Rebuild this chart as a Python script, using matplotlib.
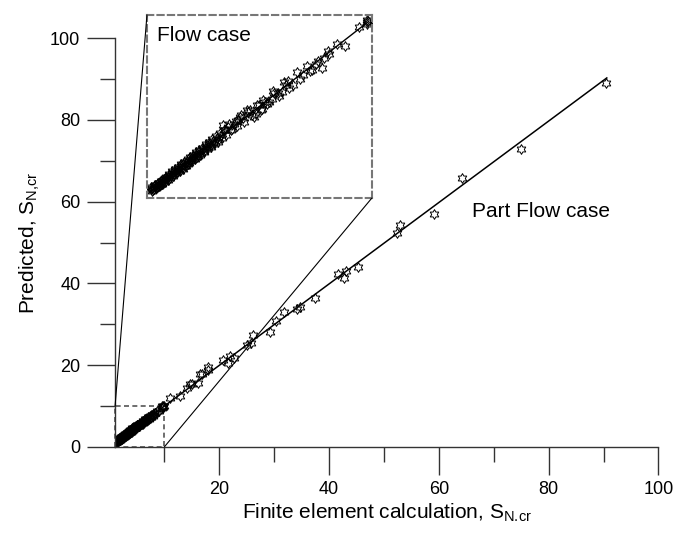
"""Predicted vs finite element S_N,cr with zoomed inset of the flow case."""

import matplotlib

matplotlib.use("Agg")
import matplotlib.pyplot as plt
import numpy as np
from matplotlib.patches import ConnectionPatch, Rectangle
from matplotlib.path import Path

plt.rcParams["font.family"] = ["Liberation Sans", "DejaVu Sans"]

# Flow case (small values, also shown in the inset)
flow_x = [
    1.15, 1.2, 1.22, 1.28, 1.3, 1.35, 1.38, 1.45, 1.5, 1.52, 1.6, 1.63, 1.7, 1.74, 1.8, 1.86, 1.9, 1.97, 2.0, 2.08,
    2.12, 2.2, 2.24, 2.3, 2.35, 2.42, 2.45, 2.52, 2.58, 2.6, 2.68, 2.75, 2.8, 2.86, 2.9, 2.98, 3.05, 3.1, 3.18, 3.25,
    3.3, 3.38, 3.45, 3.5, 3.58, 3.65, 3.72, 3.8, 3.88, 3.95, 4.05, 4.12, 4.25, 4.35, 4.5, 4.65, 4.72, 4.85, 5.0, 5.13,
    5.27, 5.35, 5.47, 5.6, 5.73, 5.8, 6.0, 6.1, 6.25, 6.39, 6.58, 6.65, 6.7, 7.12, 7.25, 7.52, 7.75, 7.85, 7.99, 8.25,
    8.27, 8.92, 9.79, 9.8, 9.81, 9.83,
    1.18, 1.25, 1.33, 1.4, 1.43, 1.48, 1.56, 1.62, 1.68, 1.72, 1.78, 1.83, 1.88, 1.94, 2.02, 2.05, 2.14, 2.18,
    2.26, 2.32, 2.38, 2.44, 2.5, 2.55, 2.63, 2.66, 2.72, 2.78, 2.84, 2.92, 2.96, 3.02, 3.08, 3.14, 3.2, 3.28,
    3.35, 3.4, 3.48, 3.55, 3.62, 3.68, 3.75, 3.85, 3.92, 4.0, 4.08, 4.18, 4.3, 4.42, 4.55, 4.6, 4.78, 4.9,
    5.05, 5.2, 5.4, 5.55, 5.65, 5.9, 6.05, 6.3, 6.5, 6.85, 7.0, 7.4, 7.6, 8.1, 8.6, 9.5,
]
flow_y = [
    1.25, 1.18, 1.32, 1.24, 1.4, 1.3, 1.45, 1.42, 1.58, 1.48, 1.55, 1.7, 1.66, 1.82, 1.75, 1.9, 1.98, 1.92, 2.1, 2.02,
    2.2, 2.15, 2.3, 2.26, 2.42, 2.35, 2.52, 2.46, 2.6, 2.7, 2.62, 2.8, 2.74, 2.95, 2.86, 3.05, 2.98, 3.2, 3.12, 3.3,
    3.22, 3.45, 3.4, 3.58, 3.5, 3.72, 3.65, 3.9, 3.82, 4.02, 4.54, 4.28, 4.45, 4.3, 4.6, 4.79, 4.96, 4.9, 5.3, 5.3,
    4.96, 5.13, 5.56, 5.39, 5.73, 5.62, 5.9, 6.2, 6.17, 6.26, 6.61, 6.79, 6.44, 6.9, 7.14, 7.31, 7.7, 7.85, 7.49, 8.34,
    8.17, 8.63, 9.95, 9.84, 9.75, 9.9,
    1.35, 1.22, 1.48, 1.36, 1.55, 1.4, 1.66, 1.52, 1.78, 1.62, 1.9, 1.72, 2.02, 1.85, 2.16, 1.95, 2.28, 2.08,
    2.4, 2.2, 2.55, 2.3, 2.65, 2.42, 2.78, 2.55, 2.9, 2.68, 3.02, 2.8, 3.15, 2.9, 3.28, 3.02, 3.38, 3.15,
    3.55, 3.3, 3.68, 3.42, 3.82, 3.55, 3.98, 3.7, 4.15, 3.88, 4.3, 4.05, 4.6, 4.35, 4.75, 4.5, 5.05, 4.7,
    5.2, 5.05, 5.55, 5.3, 5.85, 5.75, 6.3, 6.05, 6.75, 6.6, 7.25, 7.6, 7.35, 8.0, 8.7, 9.6,
]

# Part flow case
part_x = [9.5, 11.0, 12.8, 14.1, 14.7, 15.0, 16.1, 16.5, 16.9, 18.0, 18.0, 20.7, 21.5, 22.0, 22.6, 25.1, 25.7,
          26.2, 29.2, 30.3, 31.7, 34.1, 34.7, 37.4, 41.7, 42.8, 43.1, 45.3, 52.3, 53.0, 59.1, 64.2, 75.0, 90.4]
part_y = [10.0, 12.0, 12.5, 14.5, 15.4, 15.4, 15.7, 17.9, 17.9, 18.9, 19.4, 21.3, 20.6, 22.1, 21.8, 25.0, 25.3,
          27.4, 28.2, 30.9, 33.1, 33.8, 34.1, 36.3, 42.4, 41.2, 43.1, 43.9, 52.4, 54.2, 57.1, 65.9, 73.0, 89.0]

fit_x = [1.0, 90.6]
fit_y = [1.0, 90.3]

# hollow six-pointed star marker
ang = np.deg2rad(90 + 30 * np.arange(12))
rad = np.where(np.arange(12) % 2 == 0, 1.0, 0.577)
verts = np.column_stack([rad * np.cos(ang), rad * np.sin(ang)])
verts = np.vstack([verts, verts[:1]])
star = Path(verts, closed=True)

mk = dict(marker=star, linestyle="none", markersize=7, markerfacecolor="none",
          markeredgecolor="black", markeredgewidth=0.7)

fig = plt.figure(figsize=(6.77, 5.35), dpi=100)
ax = fig.add_axes([0.170, 0.165, 0.8025, 0.7634])

ax.plot(flow_x, flow_y, **mk)
ax.plot(part_x, part_y, **mk)
ax.plot(fit_x, fit_y, color="black", lw=1.1)

ax.set_xlim(1, 100)
ax.set_ylim(0, 100)
ax.set_xticks([20, 40, 60, 80, 100])
ax.set_xticks([10, 30, 50, 70, 90], minor=True)
ax.set_yticks([0, 20, 40, 60, 80, 100])
ax.set_yticks([10, 30, 50, 70, 90], minor=True)
for side in ["top", "right"]:
    ax.spines[side].set_visible(False)
for side in ["left", "bottom"]:
    ax.spines[side].set_color("#333333")
    ax.spines[side].set_linewidth(1.0)
ax.tick_params(which="major", length=20, width=1.0, color="#333333", labelsize=13, pad=5)
ax.tick_params(which="minor", length=10.5, width=1.0, color="#333333")

ax.set_xlabel("Finite element calculation, $\\mathregular{S_{N.\\!cr}}$", fontsize=15, labelpad=2)
ax.set_ylabel("Predicted, $\\mathregular{S_{N{,}cr}}$", fontsize=15, labelpad=6)
ax.text(66.1, 57.7, "Part Flow case", fontsize=15, va="center", ha="left")

# zoom box in the main axes
ax.add_patch(Rectangle((1, 0), 9, 10, fill=False, edgecolor="#555555", lw=1.2,
                       linestyle=(0, (3, 2)), clip_on=False))

# inset
ins = fig.add_axes([0.2171, 0.630, 0.3323, 0.342])
ins.plot(flow_x, flow_y, **mk)
ins.plot([1.1, 9.85], [1.1, 9.85], color="black", lw=1.0)
ins.set_xlim(1, 10)
ins.set_ylim(0.8, 10.2)
ins.set_xticks([])
ins.set_yticks([])
for sp in ins.spines.values():
    sp.set_linestyle((0, (3, 2)))
    sp.set_color("#777777")
    sp.set_linewidth(1.5)
ins.text(0.044, 0.89, "Flow case", transform=ins.transAxes, fontsize=15, va="center", ha="left")

for pa, pb in [((1, 10), (0, 1)), ((10, 0), (1, 0))]:
    con = ConnectionPatch(xyA=pa, coordsA=ax.transData, xyB=pb, coordsB=ins.transAxes,
                          color="black", lw=0.8)
    fig.add_artist(con)

fig.savefig("out.png", dpi=100)
